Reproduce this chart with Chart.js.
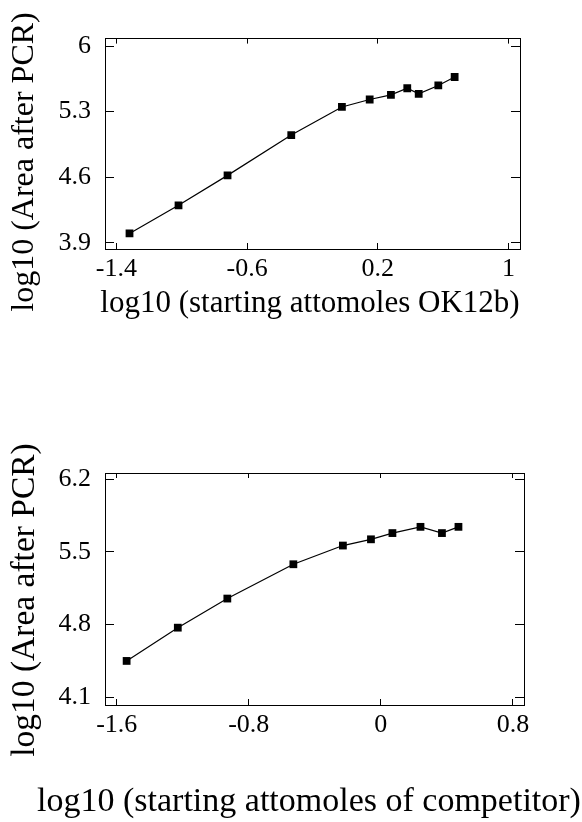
<!DOCTYPE html>
<html lang="en">
<head>
<meta charset="UTF-8">
<title>log10 area after PCR</title>
<style>
  html, body { margin: 0; padding: 0; background: #fff; }
  body { width: 582px; height: 822px; position: relative; overflow: hidden; }
  .painel { position: absolute; left: 0; width: 582px; }
  #painel1 { top: 0; height: 330px; }
  #painel2 { top: 410px; height: 412px; }
</style>
</head>
<body>
<div class="painel" id="painel1"><canvas id="graficoOK12b" width="582" height="330"></canvas></div>
<div class="painel" id="painel2"><canvas id="graficoCompetidor" width="582" height="412"></canvas></div>

<script src="https://cdn.jsdelivr.net/npm/chart.js"></script>
<script>
// === painel de cima: OK12b ===
const xOK12b = [-1.32, -1.02, -0.72, -0.33, -0.02, 0.15, 0.28, 0.38, 0.45, 0.57, 0.67];
const yOK12b = [4.00, 4.30, 4.62, 5.05, 5.35, 5.43, 5.48, 5.55, 5.49, 5.58, 5.67];
const xTicksOK12b = [-1.4, -0.6, 0.2, 1];
const yTicksOK12b = [3.9, 4.6, 5.3, 6];

// === painel de baixo: competidor ===
const xComp = [-1.54, -1.23, -0.93, -0.53, -0.23, -0.06, 0.07, 0.24, 0.37, 0.47];
const yComp = [4.45, 4.77, 5.05, 5.38, 5.56, 5.62, 5.68, 5.74, 5.68, 5.74];
const xTicksComp = [-1.6, -0.8, 0, 0.8];
const yTicksComp = [4.1, 4.8, 5.5, 6.2];

const tituloY = 'log10 (Area after PCR)';
const tituloXOK12b = 'log10 (starting attomoles OK12b)';
const tituloXComp = 'log10 (starting attomoles of competitor)';

Chart.defaults.font.family = '"Liberation Serif", "Times New Roman", serif';
Chart.defaults.color = '#000';

// titulos dos eixos desenhados a mao (posicao livre)
function titulos(itens) {
    return {
        id: 'titulos',
        afterDraw(chart) {
            const ctx = chart.ctx;
            itens.forEach(t => {
                ctx.save();
                ctx.translate(t.x, t.y);
                ctx.rotate(t.rot || 0);
                ctx.font = t.size + 'px "Liberation Serif", "Times New Roman", serif';
                ctx.fillStyle = '#000';
                ctx.textAlign = 'center';
                ctx.textBaseline = 'middle';
                ctx.fillText(t.text, 0, 0);
                ctx.restore();
            });
        }
    };
}

function fixarTicks(lista) {
    return scale => { scale.ticks = lista.map(v => ({ value: v })); };
}

function eixo(pos, lim, lista, tam, tick, labels) {
    const horiz = pos === 'top' || pos === 'bottom';
    return {
        type: 'linear',
        position: pos,
        min: lim[0],
        max: lim[1],
        afterBuildTicks: fixarTicks(lista),
        afterFit: s => { if (horiz) s.height = tam; else s.width = tam; },
        grid: { drawOnChartArea: false, drawTicks: true, tickLength: tick, color: '#000', lineWidth: 1 },
        border: { display: true, color: '#000', width: 1 },
        ticks: {
            display: labels,
            font: { size: 26 },
            color: '#000',
            padding: horiz ? 11 : 23,
            callback: v => String(v)
        }
    };
}

function montar(id, xs, ys, cfg) {
    new Chart(document.getElementById(id), {
        type: 'scatter',
        data: {
            datasets: [{
                data: xs.map((x, i) => ({ x: x, y: ys[i] })),
                showLine: true,
                borderColor: '#000',
                borderWidth: 1.2,
                tension: 0,
                pointStyle: 'rect',
                pointRadius: 5.5,
                pointBorderWidth: 0,
                pointBackgroundColor: '#000'
            }]
        },
        options: {
            responsive: false,
            animation: false,
            events: [],
            layout: { padding: { top: cfg.top, right: cfg.right, left: 0, bottom: 0 } },
            scales: {
                x: eixo('bottom', cfg.xLim, cfg.xTicks, cfg.xAltura, -6, true),
                y: eixo('left', cfg.yLim, cfg.yTicks, 105, -9, true),
                x2: eixo('top', cfg.xLim, cfg.xTicks, 0, -5, false),
                y2: eixo('right', cfg.yLim, cfg.yTicks, 0, -9, false)
            },
            plugins: { legend: { display: false }, tooltip: { enabled: false } }
        },
        plugins: [titulos(cfg.titulos)]
    });
}

montar('graficoOK12b', xOK12b, yOK12b, {
    top: 35, right: 62, xAltura: 81,
    xLim: [-1.47, 1.07], yLim: [3.834, 6.08],
    xTicks: xTicksOK12b, yTicks: yTicksOK12b,
    titulos: [
        { text: tituloY, x: 25, y: 162, rot: -Math.PI / 2, size: 32 },
        { text: tituloXOK12b, x: 310, y: 304, size: 31 }
    ]
});

montar('graficoCompetidor', xComp, yComp, {
    top: 63, right: 58, xAltura: 117,
    xLim: [-1.671, 0.867], yLim: [4.026, 6.258],
    xTicks: xTicksComp, yTicks: yTicksComp,
    titulos: [
        { text: tituloY, x: 25, y: 190, rot: -Math.PI / 2, size: 33.5 },
        { text: tituloXComp, x: 309, y: 392, size: 34 }
    ]
});
</script>
</body>
</html>
